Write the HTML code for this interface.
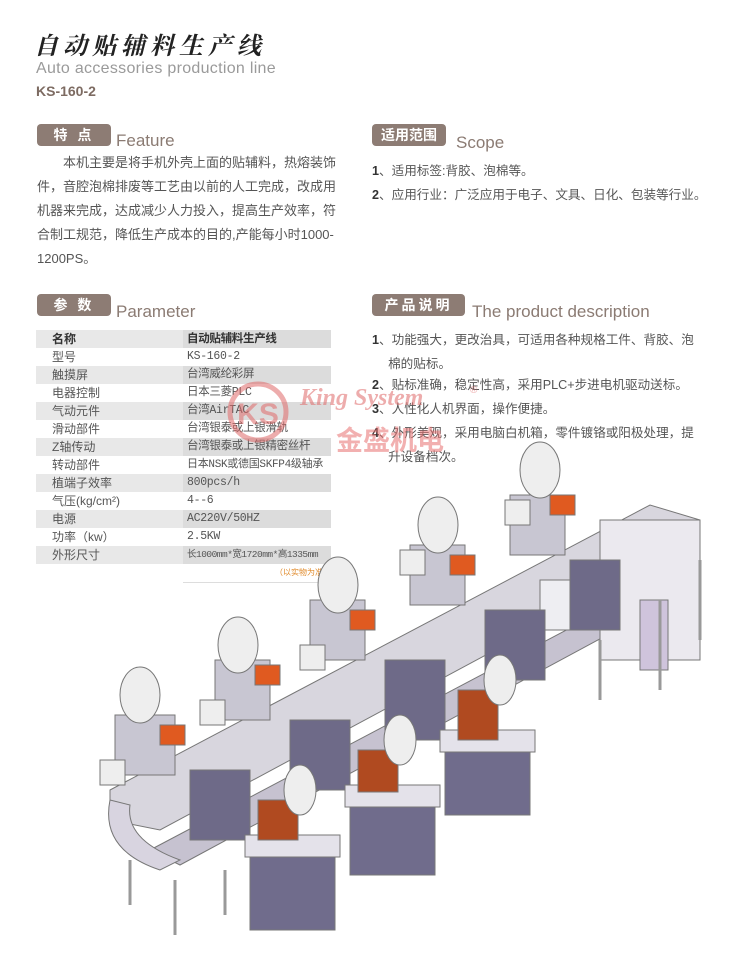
<!DOCTYPE html>
<html><head><meta charset="utf-8"><style>
*{margin:0;padding:0;box-sizing:border-box}
body{width:748px;height:961px;background:#fff;position:relative;overflow:hidden;font-family:"Liberation Sans","Noto Sans CJK SC",sans-serif;color:#555}
.a{position:absolute;white-space:nowrap}
.badge{position:absolute;background:#8d7c74;color:#fff;border-radius:4px;font-weight:bold;font-size:14px;text-align:center;line-height:22px;letter-spacing:3px}
.en{position:absolute;color:#8b7b73;font-size:17px;white-space:nowrap}
.p{font-size:12.6px;color:#555;line-height:24px}
table{position:absolute;left:36px;top:330px;width:295px;border-collapse:collapse;font-size:12px;color:#555;table-layout:fixed}
td{height:18px;padding:0;line-height:18px;white-space:nowrap;overflow:hidden}
td.c1{width:147px;padding-left:16px}
td.c2{padding-left:4px;font-family:"Liberation Mono","Noto Sans CJK SC",monospace;font-size:11.5px;letter-spacing:-0.3px}
tr.g td{background:#e8e8e8}
tr.g td.c2{background:#dcdcdc}
tr.h td{font-weight:bold;color:#333}
b.n{color:#333;font-weight:bold}
</style></head><body>
<div class="a" style="left:34px;top:26px;font-size:24px;color:#222;font-family:'Noto Serif CJK SC',serif;font-weight:bold;letter-spacing:5px;font-style:italic">自动贴辅料生产线</div>
<div class="a" style="left:36px;top:60px;font-size:16px;color:#9a9a9a;letter-spacing:0.3px">Auto accessories production line</div>
<div class="a" style="left:36px;top:83px;font-size:14px;color:#7d6b62;font-weight:bold">KS-160-2</div>

<div class="badge" style="left:37px;top:124px;width:74px;height:22px">特 点</div>
<div class="en" style="left:116px;top:131px">Feature</div>
<div class="a p" style="left:37px;top:151px;font-size:13px">　　本机主要是将手机外壳上面的贴辅料，热熔装饰<br>件，音腔泡棉排废等工艺由以前的人工完成，改成用<br>机器来完成，达成减少人力投入，提高生产效率，符<br>合制工规范，降低生产成本的目的,产能每小时1000-<br>1200PS。</div>

<div class="badge" style="left:372px;top:124px;width:74px;height:22px;letter-spacing:0">适用范围</div>
<div class="en" style="left:456px;top:133px">Scope</div>
<div class="a p" style="left:372px;top:159px"><b class="n">1</b>、适用标签:背胶、泡棉等。</div>
<div class="a p" style="left:372px;top:183px"><b class="n">2</b>、应用行业：广泛应用于电子、文具、日化、包装等行业。</div>

<div class="badge" style="left:37px;top:294px;width:74px;height:22px">参 数</div>
<div class="en" style="left:116px;top:302px">Parameter</div>
<table>
<tr class="g h"><td class="c1">名称</td><td class="c2" style="font-family:'Liberation Sans','Noto Sans CJK SC',sans-serif">自动贴辅料生产线</td></tr>
<tr><td class="c1">型号</td><td class="c2">KS-160-2</td></tr>
<tr class="g"><td class="c1">触摸屏</td><td class="c2">台湾威纶彩屏</td></tr>
<tr><td class="c1">电器控制</td><td class="c2">日本三菱PLC</td></tr>
<tr class="g"><td class="c1">气动元件</td><td class="c2">台湾AirTAC</td></tr>
<tr><td class="c1">滑动部件</td><td class="c2">台湾银泰或上银滑轨</td></tr>
<tr class="g"><td class="c1">Z轴传动</td><td class="c2">台湾银泰或上银精密丝杆</td></tr>
<tr><td class="c1">转动部件</td><td class="c2" style="font-size:11px">日本NSK或德国SKFP4级轴承</td></tr>
<tr class="g"><td class="c1">植端子效率</td><td class="c2">800pcs/h</td></tr>
<tr><td class="c1">气压(kg/cm²)</td><td class="c2">4--6</td></tr>
<tr class="g"><td class="c1">电源</td><td class="c2">AC220V/50HZ</td></tr>
<tr><td class="c1">功率（kw）</td><td class="c2">2.5KW</td></tr>
<tr class="g"><td class="c1">外形尺寸</td><td class="c2" style="font-size:9.5px;letter-spacing:-0.5px">长1000mm*宽1720mm*高1335mm</td></tr>
<tr><td></td><td style="text-align:right;font-size:8px;color:#e08a2a;height:14px;border-bottom:1px solid #ddd">（以实物为准）</td></tr>
</table>

<div class="badge" style="left:372px;top:294px;width:93px;height:22px">产品说明</div>
<div class="en" style="left:472px;top:302px">The product description</div>
<div class="a p" style="left:372px;top:328px"><b class="n">1</b>、功能强大，更改治具，可适用各种规格工件、背胶、泡<br>　 棉的贴标。</div>
<div class="a p" style="left:372px;top:373px"><b class="n">2</b>、贴标准确，稳定性高，采用PLC+步进电机驱动送标。</div>
<div class="a p" style="left:372px;top:397px"><b class="n">3</b>、人性化人机界面，操作便捷。</div>
<div class="a p" style="left:372px;top:421px"><b class="n">4</b>、外形美观，采用电脑白机箱，零件镀铬或阳极处理，提<br>　 升设备档次。</div>

<svg class="a" style="left:0;top:0" width="748" height="961">
<g opacity="0.55">
<circle cx="258" cy="412" r="28" fill="none" stroke="#e06a6a" stroke-width="5"/>
<text x="258" y="424" font-size="30" font-family="Liberation Sans" fill="#e06a6a" text-anchor="middle" font-weight="bold">KS</text>
<text x="300" y="405" font-size="24" font-family="Liberation Serif" font-style="italic" font-weight="bold" fill="#e06a6a">King System</text>
<text x="470" y="393" font-size="10" fill="#e06a6a">®</text>
<text x="336" y="450" font-size="27" font-family="Noto Sans CJK SC" font-weight="bold" fill="#e87070">金盛机电</text>
</g>
<g stroke="#777" stroke-width="1">
<polygon points="110,790 650,505 700,520 700,540 160,830 110,820" fill="#d8d6de"/>
<polygon points="150,850 680,570 700,585 180,865" fill="#c6c2d0"/>
<rect x="600" y="520" width="100" height="140" fill="#ebe9ef"/>
<rect x="640" y="600" width="28" height="70" fill="#cfc4dc"/>
<rect x="540" y="580" width="40" height="50" fill="#eeeef2"/>
<g fill="#6e6a88">
<rect x="190" y="770" width="60" height="70"/>
<rect x="290" y="720" width="60" height="70"/>
<rect x="385" y="660" width="60" height="80"/>
<rect x="485" y="610" width="60" height="70"/>
<rect x="570" y="560" width="50" height="70"/>
</g>
<g fill="#c8c6d2">
<rect x="115" y="715" width="60" height="60"/>
<rect x="215" y="660" width="55" height="60"/>
<rect x="310" y="600" width="55" height="60"/>
<rect x="410" y="545" width="55" height="60"/>
<rect x="510" y="495" width="55" height="60"/>
</g>
<g fill="#e05a20">
<rect x="160" y="725" width="25" height="20"/><rect x="255" y="665" width="25" height="20"/><rect x="350" y="610" width="25" height="20"/><rect x="450" y="555" width="25" height="20"/><rect x="550" y="495" width="25" height="20"/>
</g>
<g fill="#eee">
<ellipse cx="140" cy="695" rx="20" ry="28"/><ellipse cx="238" cy="645" rx="20" ry="28"/><ellipse cx="338" cy="585" rx="20" ry="28"/><ellipse cx="438" cy="525" rx="20" ry="28"/><ellipse cx="540" cy="470" rx="20" ry="28"/>
<rect x="100" y="760" width="25" height="25"/><rect x="200" y="700" width="25" height="25"/><rect x="300" y="645" width="25" height="25"/><rect x="400" y="550" width="25" height="25"/><rect x="505" y="500" width="25" height="25"/>
</g>
<g fill="#706c8c">
<rect x="250" y="855" width="85" height="75"/>
<rect x="350" y="805" width="85" height="70"/>
<rect x="445" y="750" width="85" height="65"/>
</g>
<g fill="#e4e2ea">
<rect x="245" y="835" width="95" height="22"/><rect x="345" y="785" width="95" height="22"/><rect x="440" y="730" width="95" height="22"/>
</g>
<g fill="#b04a20">
<rect x="258" y="800" width="40" height="40"/><rect x="358" y="750" width="40" height="42"/><rect x="458" y="690" width="40" height="50"/>
</g>
<g fill="#eee">
<ellipse cx="300" cy="790" rx="16" ry="25"/><ellipse cx="400" cy="740" rx="16" ry="25"/><ellipse cx="500" cy="680" rx="16" ry="25"/>
</g>
<path d="M110,800 Q100,850 160,870 L180,860 Q125,840 130,805 Z" fill="#d8d4e0"/>
<g stroke="#999" stroke-width="3">
<line x1="130" y1="860" x2="130" y2="905"/><line x1="175" y1="880" x2="175" y2="935"/><line x1="225" y1="870" x2="225" y2="915"/><line x1="600" y1="640" x2="600" y2="700"/><line x1="660" y1="600" x2="660" y2="690"/><line x1="700" y1="560" x2="700" y2="640"/>
</g>
</g>
</svg>
</body></html>
